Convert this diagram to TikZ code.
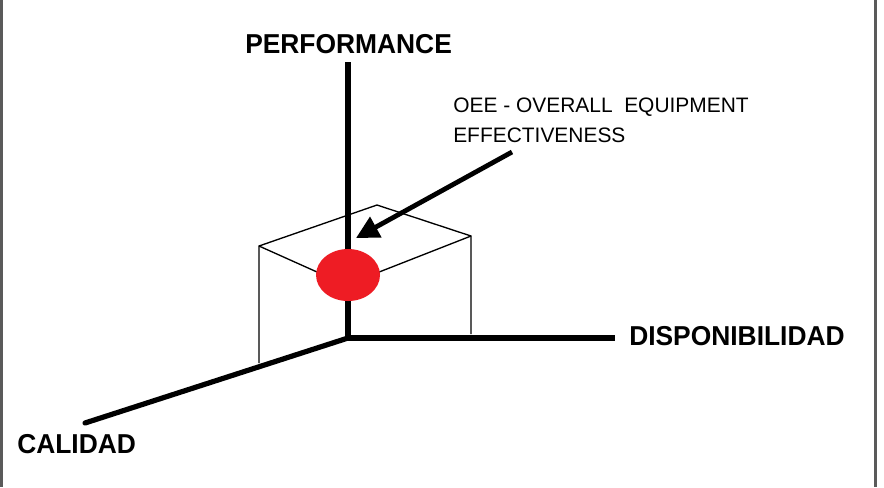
\documentclass[tikz,border=0pt]{standalone}
\usepackage{fontspec}
\setmainfont{Liberation Sans}
\usetikzlibrary{arrows.meta,shapes.geometric}
\definecolor{framegray}{HTML}{5A5A5A}
\definecolor{oeered}{HTML}{EE1C24}
\begin{document}
\begin{tikzpicture}[x=0.75pt,y=-0.75pt,
  axis/.style={line width=3.9pt,line cap=butt},
  boxedge/.style={line width=1pt},
  axislabel/.style={inner sep=0pt,font=\fontsize{20.5}{24}\selectfont\bfseries,anchor=base west,xscale=0.965},
  notelabel/.style={inner sep=0pt,font=\fontsize{15.7}{19}\selectfont,anchor=base west},
  pointer/.style={line width=3.6pt,-{Triangle[length=17pt,width=17pt]}},
  frameline/.style={framegray,line width=2.2pt}]
\useasboundingbox (0,0) rectangle (884,487);
\fill[white] (0,0) rectangle (884,487);
% frame sides
\coordinate (fl1) at (1.5,0); \coordinate (fl2) at (1.5,487);
\coordinate (fr1) at (875.5,0); \coordinate (fr2) at (875.5,487);
\draw[frameline] (fl1) -- (fl2);
\draw[frameline] (fr1) -- (fr2);
% coordinates
\coordinate (O) at (348,338);
\coordinate (ptop) at (348,62);
\coordinate (pright) at (615,338);
\coordinate (pleft) at (85,423);
\coordinate (b1) at (259,246);
\coordinate (b1d) at (259,363);
\coordinate (b2) at (377,205);
\coordinate (b3) at (471,236);
\coordinate (b3d) at (471,334);
\coordinate (b4) at (346,285);
\coordinate (astart) at (512,152);
\coordinate (aend) at (356,238);
% box
\draw[boxedge] (b1d) -- (b1) -- (b2) -- (b3) -- (b3d);
\draw[boxedge] (b1) -- (b4) -- (b3);
% axes
\draw[axis] (ptop) -- (O);
\draw[axis] (O) -- (pright);
\draw[axis,line cap=round] (O) -- (pleft);
% OEE point
\node[ellipse,fill=oeered,minimum width=48pt,minimum height=39pt,inner sep=0pt] (oee) at (348,275) {};
% pointer
\draw[pointer] (astart) -- (aend);
% labels
\node[axislabel] (perf) at (245,53) {PERFORMANCE};
\node[axislabel] (disp) at (629,345) {DISPONIBILIDAD};
\node[axislabel] (cal) at (17,453) {CALIDAD};
\node[notelabel] (note1) at (453,112) {OEE - OVERALL\ \ EQUIPMENT};
\node[notelabel] (note2) at (453,142) {EFFECTIVENESS};
\end{tikzpicture}
\end{document}
